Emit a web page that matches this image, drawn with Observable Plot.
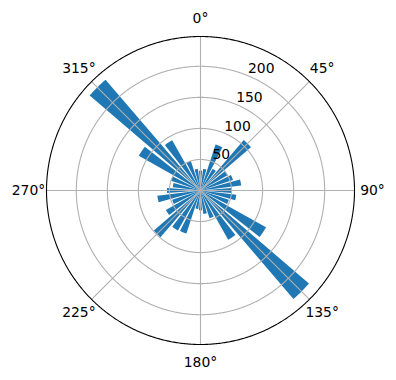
<!DOCTYPE html>
<html><head><meta charset="utf-8">
<script src="https://cdn.jsdelivr.net/npm/d3@7"></script>
<script src="https://cdn.jsdelivr.net/npm/@observablehq/plot@0.6"></script>
<style>body{margin:0;background:#fff} svg{display:block}</style>
</head><body><div id="chart"></div>
<script>
// Data
const directions = [0, 11.25, 22.5, 33.75, 45, 56.25, 67.5, 78.75, 90, 101.25, 112.5, 123.75,
  135, 146.25, 157.5, 168.75, 180, 191.25, 202.5, 213.75, 225, 236.25, 247.5, 258.75,
  270, 281.25, 292.5, 303.75, 315, 326.25, 337.5, 348.75];
const counts = [32, 35, 78, 40, 107, 50, 55, 66, 50, 58, 48, 121,
  230, 91, 47, 38, 32, 30, 73, 74, 99, 64, 48, 70,
  54, 45, 50, 114, 235, 93, 50, 35];
const angleTicks = [0, 45, 90, 135, 180, 225, 270, 315];
const angleTickLabels = ["0°", "45°", "90°", "135°", "180°", "225°", "270°", "315°"];
const radialTicks = [50, 100, 150, 200];
const radialTickLabels = ["50", "100", "150", "200"];

const rMax = 248;          // radial limit
const K = 0.25;            // degrees of arc per unit
const barWidth = 8.8;      // degrees
const labelR = 277;
const rLabelAngle = 22.5;

const lon = t => 180 - t;
const lat = v => 90 - v * K;

function wedge(theta, v) {
  const a0 = theta - barWidth / 2, a1 = theta + barWidth / 2, n = 24;
  const ring = [];
  for (let i = 0; i <= n; i++) { const a = a0 + (a1 - a0) * i / n; ring.push([lon(a), lat(v)]); }
  ring.push([lon(a1), lat(0.01)], [lon(a0), lat(0.01)], ring[0]);
  const f = {type: "Feature", geometry: {type: "Polygon", coordinates: [ring]}};
  if (d3.geoArea(f) > 2 * Math.PI) ring.reverse();
  return f;
}
const bars = directions.map((d, i) => wedge(d, counts[i]));
const circle = r => d3.geoCircle().center([0, 90]).radius(r * K).precision(0.5)();
const outer = circle(rMax);
const gridCircles = radialTicks.map(circle);
const spokes = angleTicks.map(t => ({type: "LineString", coordinates: [[lon(t), 90], [lon(t), lat(rMax)]]}));

const chart = Plot.plot({
  width: 396, height: 380,
  marginLeft: 46, marginRight: 42, marginTop: 36, marginBottom: 36,
  projection: {type: "azimuthal-equidistant", rotate: [0, -90], domain: outer, clip: false},
  style: {fontFamily: "DejaVu Sans", background: "#fff"},
  marks: [
    Plot.geo(bars, {fill: "#1f77b4", stroke: "none"}),
    Plot.geo(gridCircles, {stroke: "#b0b0b0", strokeWidth: 1.1, fill: "none"}),
    Plot.geo(spokes, {stroke: "#b0b0b0", strokeWidth: 1.1}),
    Plot.geo([outer], {stroke: "#000", strokeWidth: 1.1, fill: "none"}),
    Plot.text(angleTicks, {x: d => lon(d), y: () => lat(labelR), text: (d, i) => angleTickLabels[i],
      fontSize: 13.9, fill: "#000"}),
    Plot.text(radialTicks, {x: () => lon(rLabelAngle), y: d => lat(d), text: (d, i) => radialTickLabels[i],
      fontSize: 13.9, fill: "#000", textAnchor: "start", dy: -7})
  ]
});
document.getElementById("chart").append(chart);
</script></body></html>
